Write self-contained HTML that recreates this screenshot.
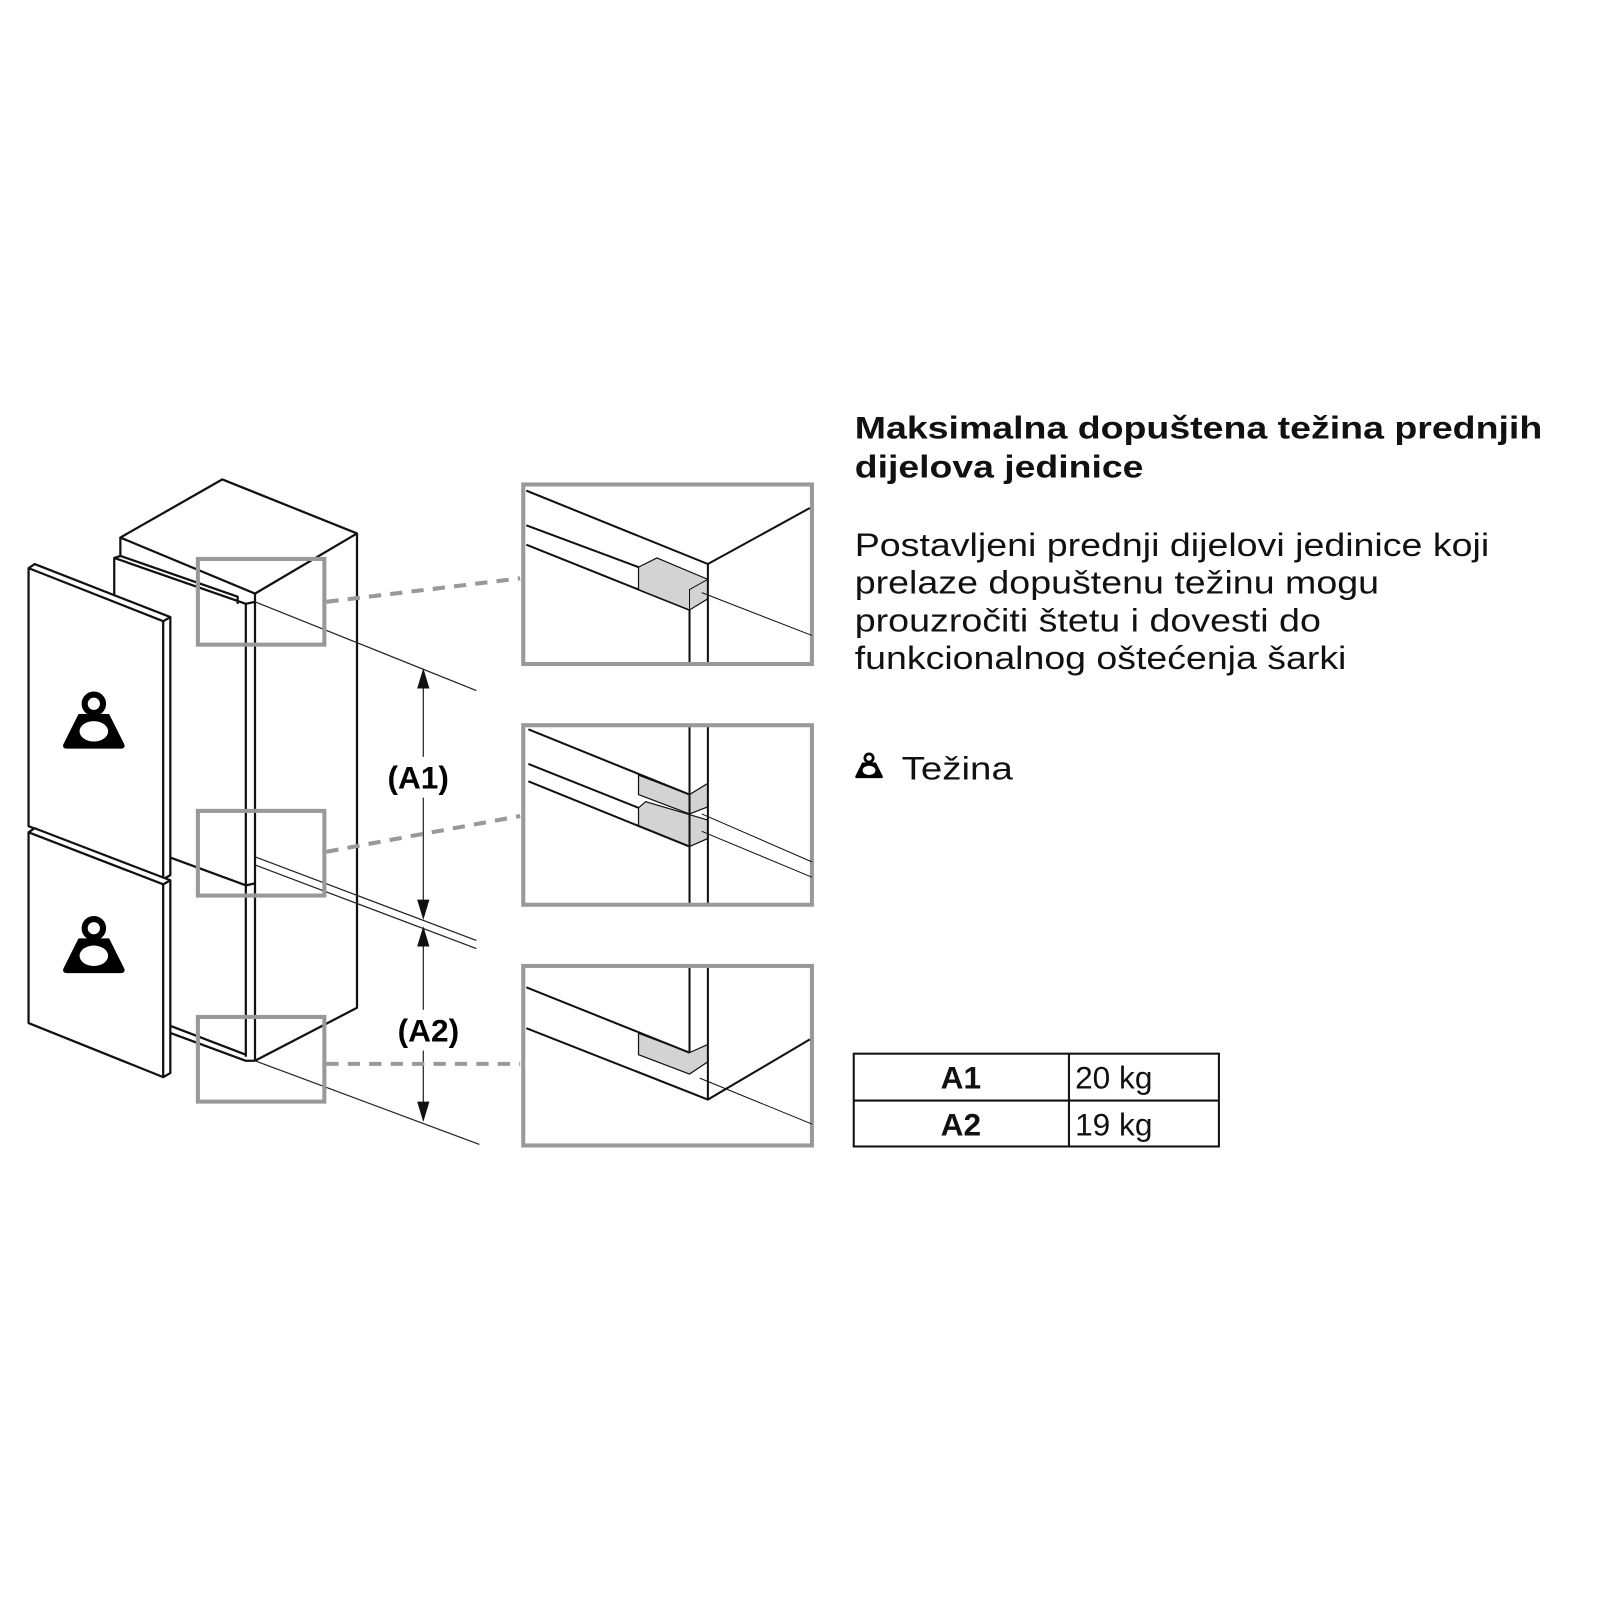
<!DOCTYPE html>
<html><head><meta charset="utf-8"><style>html,body{margin:0;padding:0;background:#fff}svg{display:block}</style></head>
<body>
<svg width="1600" height="1600" viewBox="0 0 1600 1600" xmlns="http://www.w3.org/2000/svg" font-family="Liberation Sans, Arial, sans-serif">
<defs>
<g id="wt">
<circle cx="0" cy="-22" r="9" fill="none" stroke="#000" stroke-width="6"/>
<path d="M-15,-12 L15,-12 L30,18 Q31,22 26,22 L-26,22 Q-31,22 -30,18 Z" fill="#000"/>
<ellipse cx="0" cy="5" rx="14" ry="10" fill="#fff"/>
</g>
</defs>
<rect width="1600" height="1600" fill="#fff"/>
<g transform="scale(1.02)">
<g fill="none" stroke="#111" stroke-width="2.2" stroke-linejoin="round">
<path d="M118,527 L218,470 L350,523 L250,582 Z" fill="#fff"/>
<path d="M350,523 L350,988 L250,1040"/>
<path d="M250,582 L250,1040"/>
<path d="M241,592 L241,1036"/>
<path d="M118,527 L118,545 L112,547 L112,1005"/>
<path d="M112,547 L241,592 L250,590"/>
<path d="M118,545 L233,585 L233,592"/>
<path d="M165,840 L241,868 L250,866"/>
<path d="M165,1005 L241,1034"/>
<path d="M165,1012 L241,1040 L250,1040"/>
<path d="M28,557 L34,553 L167,605 L167,858 L160,862 L28,810 Z" fill="#fff"/>
<path d="M28,557 L160,609 L160,862 M160,609 L167,605"/>
<path d="M28,816 L34,812 L167,863 L167,1052 L160,1056 L28,1003 Z" fill="#fff"/>
<path d="M28,816 L160,867 L160,1056 M160,867 L167,863"/>
</g>
<use href="#wt" x="92" y="712"/>
<use href="#wt" x="92" y="932"/>
<g stroke="#222" stroke-width="1.2" fill="none">
<path d="M250,590 L467,677"/>
<path d="M250,840 L467,922"/>
<path d="M250,848 L467,930"/>
<path d="M250,1040 L470,1122"/>
<path d="M415,660 L415,897"/>
<path d="M415,913 L415,1095"/>
</g>
<g fill="#111">
<path d="M415,655 L409,675 L421,675 Z"/>
<path d="M415,902 L409,882 L421,882 Z"/>
<path d="M415,908 L409,928 L421,928 Z"/>
<path d="M415,1100 L409,1080 L421,1080 Z"/>
</g>
<rect x="372" y="742" width="86" height="40" fill="#fff"/>
<rect x="380" y="990" width="86" height="40" fill="#fff"/>
<text x="410" y="773" font-size="31" font-weight="bold" text-anchor="middle">(A1)</text>
<text x="420" y="1021" font-size="31" font-weight="bold" text-anchor="middle">(A2)</text>
<g fill="none" stroke="#999" stroke-width="4">
<rect x="194" y="548" width="124" height="84"/>
<rect x="194" y="795" width="124" height="83"/>
<rect x="194" y="997" width="124" height="83"/>
<path d="M320,590 L510,567" stroke-dasharray="12,9"/>
<path d="M320,835 L510,800" stroke-dasharray="12,9"/>
<path d="M320,1043 L510,1043" stroke-dasharray="12,9"/>
<rect x="513" y="475" width="283" height="176"/>
<rect x="513" y="711" width="283" height="176"/>
<rect x="513" y="947" width="283" height="176"/>
</g>
<g stroke="#111" stroke-width="2" fill="none">
<path d="M516,481 L694,553 L794,498"/>
<path d="M516,515 L626,556"/>
<path d="M516,534 L676,598"/>
<path d="M626,556 L644,547 L694,568 L694,587 L676,598 L626,578 Z" fill="#d3d3d3" stroke-width="1.2"/>
<path d="M676,598 L676,649 M694,553 L694,649"/>
<path d="M676,598 L676,578 L694,568" stroke-width="1"/>
<path d="M688,581 L796,623" stroke-width="1"/>
</g>
<g stroke="#111" stroke-width="2" fill="none">
<path d="M626,760 L676,779 L694,768 L694,791 L676,798 L626,779 Z" fill="#d3d3d3" stroke-width="1.2"/>
<path d="M626,792 L633,786 L694,804 L694,822 L676,830 L626,810 Z" fill="#d3d3d3" stroke-width="1.2"/>
<path d="M518,715 L676,779"/>
<path d="M518,749 L626,792"/>
<path d="M518,766 L676,830"/>
<path d="M676,713 L676,885 M694,713 L694,885"/>
<path d="M688,798 L796,845" stroke-width="1"/>
<path d="M688,815 L796,860" stroke-width="1"/>
</g>
<g stroke="#111" stroke-width="2" fill="none">
<path d="M626,1013 L676,1032 L694,1024 L694,1041 L676,1053 L626,1034 Z" fill="#d3d3d3" stroke-width="1.2"/>
<path d="M516,968 L676,1032"/>
<path d="M516,1008 L694,1078 L794,1019"/>
<path d="M676,949 L676,1032 M694,949 L694,1078"/>
<path d="M686,1057 L796,1102" stroke-width="1"/>
</g>
<g fill="#111">
<text x="838" y="430" font-size="31" font-weight="bold" textLength="674" lengthAdjust="spacingAndGlyphs">Maksimalna dopuštena težina prednjih</text>
<text x="838" y="468" font-size="31" font-weight="bold" textLength="283" lengthAdjust="spacingAndGlyphs">dijelova jedinice</text>
<text x="838" y="545" font-size="32" textLength="622" lengthAdjust="spacingAndGlyphs">Postavljeni prednji dijelovi jedinice koji</text>
<text x="838" y="582" font-size="32" textLength="514" lengthAdjust="spacingAndGlyphs">prelaze dopuštenu težinu mogu</text>
<text x="838" y="619" font-size="32" textLength="457" lengthAdjust="spacingAndGlyphs">prouzročiti štetu i dovesti do</text>
<text x="838" y="656" font-size="32" textLength="482" lengthAdjust="spacingAndGlyphs">funkcionalnog oštećenja šarki</text>
<text x="884" y="764" font-size="32" textLength="109" lengthAdjust="spacingAndGlyphs">Težina</text>
</g>
<g transform="translate(852,753) scale(0.45)"><use href="#wt"/></g>
<g stroke="#111" stroke-width="2" fill="none">
<rect x="837" y="1033" width="358" height="91"/>
<path d="M837,1079 L1195,1079 M1048,1033 L1048,1124"/>
</g>
<g fill="#111" font-size="31">
<text x="942" y="1067" font-weight="bold" text-anchor="middle">A1</text>
<text x="942" y="1113" font-weight="bold" text-anchor="middle">A2</text>
<text x="1054" y="1067">20 kg</text>
<text x="1054" y="1113">19 kg</text>
</g>
</g>
</svg>
</body></html>
